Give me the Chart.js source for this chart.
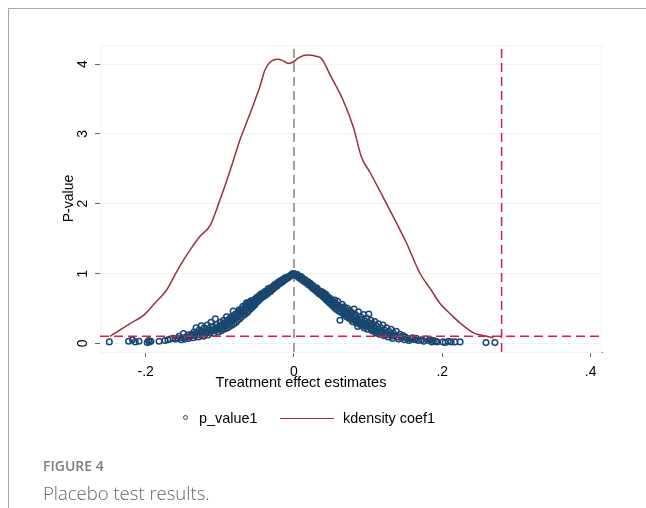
<!DOCTYPE html>
<html><head><meta charset="utf-8">
<script src="https://cdn.jsdelivr.net/npm/chart.js@4.4.1/dist/chart.umd.min.js"></script>
<style>
html,body{margin:0;padding:0;background:#fff;width:646px;height:508px;overflow:hidden;}
#wrap{position:relative;width:646px;height:508px;}
#frame{position:absolute;left:8px;top:8px;width:700px;height:600px;border-left:1px solid #a8a8a8;border-top:1px solid #a8a8a8;box-sizing:border-box;}
#c{position:absolute;left:0;top:0;}
.lg{position:absolute;font:14.4px "Liberation Sans",Arial,sans-serif;color:#000;line-height:16px;top:410px;white-space:nowrap;}
#lgDot{position:absolute;left:183px;top:415px;width:5px;height:5px;border:1px solid #1a476f;border-radius:50%;box-sizing:border-box;}
#lgLine{position:absolute;left:280px;top:417.5px;width:54px;height:1.5px;background:#93333b;}
#figno{position:absolute;left:43px;top:457px;font:600 14px "Open Sans",sans-serif;color:#7d7d7d;line-height:18px;}
#figcap{position:absolute;left:43px;top:482px;font:300 18.5px "Open Sans",sans-serif;color:#666;line-height:22px;white-space:nowrap;}
</style></head>
<body><div id="wrap">
<div id="frame"></div>
<canvas id="c" width="646" height="508"></canvas>
<div id="lgDot"></div><div class="lg" style="left:199px">p_value1</div>
<div id="lgLine"></div><div class="lg" style="left:343px">kdensity coef1</div>
<div id="figno">FIGURE 4</div>
<div id="figcap">Placebo test results.</div>
</div>
<script>
// placebo draws: [coefficient estimate, p-value]
const placeboDraws = [
[-0.001,0.99],[-0.002,1.00],[-0.003,0.98],[-0.004,0.97],[-0.006,0.96],[-0.007,0.95],[-0.008,0.94],[-0.010,0.93],
[-0.011,0.92],[-0.012,0.91],[-0.013,0.92],[-0.014,0.90],[-0.015,0.89],[-0.016,0.88],[-0.017,0.87],[-0.018,0.88],
[-0.019,0.86],[-0.020,0.85],[-0.021,0.86],[-0.022,0.84],[-0.023,0.82],[-0.024,0.83],[-0.025,0.81],[-0.026,0.80],
[-0.027,0.82],[-0.028,0.79],[-0.029,0.77],[-0.030,0.78],[-0.031,0.76],[-0.032,0.74],[-0.033,0.77],[-0.034,0.73],
[-0.035,0.75],[-0.036,0.71],[-0.037,0.72],[-0.038,0.69],[-0.039,0.74],[-0.040,0.70],[-0.041,0.67],[-0.042,0.71],
[-0.043,0.66],[-0.044,0.68],[-0.045,0.64],[-0.046,0.69],[-0.047,0.62],[-0.048,0.66],[-0.049,0.60],[-0.050,0.64],
[-0.051,0.58],[-0.052,0.62],[-0.053,0.55],[-0.054,0.60],[-0.055,0.53],[-0.056,0.57],[-0.057,0.51],[-0.058,0.61],
[-0.059,0.49],[-0.060,0.55],[-0.061,0.47],[-0.062,0.52],[-0.063,0.44],[-0.064,0.58],[-0.065,0.50],[-0.066,0.42],
[-0.067,0.47],[-0.068,0.40],[-0.069,0.53],[-0.070,0.45],[-0.071,0.38],[-0.072,0.43],[-0.073,0.35],[-0.074,0.48],
[-0.075,0.40],[-0.076,0.33],[-0.077,0.37],[-0.078,0.30],[-0.079,0.42],[-0.080,0.35],[-0.081,0.28],[-0.082,0.46],
[-0.083,0.32],[-0.084,0.26],[-0.085,0.38],[-0.086,0.30],[-0.087,0.24],[-0.088,0.34],[-0.089,0.27],[-0.090,0.22],
[-0.091,0.38],[-0.092,0.30],[-0.093,0.25],[-0.094,0.20],[-0.095,0.33],[-0.096,0.27],[-0.097,0.22],[-0.098,0.18],
[-0.099,0.30],[-0.100,0.25],[-0.101,0.20],[-0.102,0.16],[-0.104,0.27],[-0.105,0.22],[-0.106,0.35],[-0.107,0.18],
[-0.108,0.14],[-0.110,0.24],[-0.111,0.19],[-0.112,0.30],[-0.113,0.15],[-0.115,0.21],[-0.116,0.12],[-0.117,0.26],
[-0.118,0.17],[-0.120,0.13],[-0.121,0.22],[-0.122,0.10],[-0.124,0.17],[-0.125,0.25],[-0.126,0.12],[-0.128,0.19],
[-0.129,0.09],[-0.130,0.14],[-0.132,0.22],[-0.133,0.11],[-0.135,0.16],[-0.136,0.08],[-0.138,0.13],[-0.140,0.10],
[-0.142,0.07],[-0.143,0.12],[-0.145,0.09],[-0.147,0.06],[-0.149,0.14],[-0.150,0.08],[-0.152,0.05],[-0.155,0.10],
[-0.157,0.07],[-0.160,0.06],[-0.163,0.07],[-0.167,0.06],[-0.170,0.05],[-0.174,0.04],[-0.182,0.03],[-0.193,0.03],
[-0.195,0.02],[-0.196,0.04],[-0.198,0.01],[-0.209,0.03],[-0.214,0.02],[-0.218,0.05],[-0.223,0.03],[-0.249,0.02],
[-0.045,0.67],[-0.055,0.60],[-0.065,0.55],[-0.060,0.59],[-0.050,0.61],[-0.040,0.73],
[-0.005,0.97],[-0.009,0.95],[-0.012,0.94],[-0.016,0.91],[-0.019,0.89],[-0.022,0.87],[-0.026,0.84],[-0.029,0.81],
[-0.032,0.79],[-0.035,0.78],[-0.038,0.73],[-0.041,0.72],[-0.044,0.71],[-0.047,0.67],[-0.050,0.66],[-0.053,0.63],
[-0.056,0.61],[-0.059,0.57],[-0.062,0.56],[-0.066,0.52],[-0.069,0.49],[-0.072,0.47],[-0.075,0.44],[-0.078,0.40],
[-0.082,0.37],[-0.086,0.35],[-0.090,0.31],[-0.094,0.28],[-0.098,0.25],[-0.103,0.23],[-0.109,0.19],[-0.114,0.18],
[-0.119,0.15],[-0.127,0.15],[-0.134,0.12],
[0.000,1.00],[0.001,0.99],[0.002,0.98],[0.003,0.97],[0.004,0.99],[0.005,0.96],[0.006,0.95],[0.007,0.94],[0.008,0.93],
[0.009,0.94],[0.010,0.92],[0.011,0.91],[0.012,0.90],[0.013,0.91],[0.014,0.89],[0.015,0.88],[0.016,0.87],[0.017,0.88],
[0.018,0.86],[0.019,0.85],[0.020,0.84],[0.021,0.85],[0.022,0.83],[0.023,0.81],[0.024,0.82],[0.025,0.80],[0.026,0.78],
[0.027,0.81],[0.028,0.77],[0.029,0.79],[0.030,0.75],[0.031,0.77],[0.032,0.73],[0.033,0.76],[0.034,0.71],[0.035,0.74],
[0.036,0.70],[0.037,0.72],[0.038,0.68],[0.039,0.73],[0.040,0.66],[0.041,0.70],[0.042,0.64],[0.043,0.68],[0.044,0.62],
[0.045,0.67],[0.046,0.60],[0.047,0.65],[0.048,0.58],[0.049,0.63],[0.050,0.56],[0.051,0.61],[0.052,0.54],[0.053,0.59],
[0.054,0.52],[0.055,0.62],[0.056,0.50],[0.057,0.56],[0.058,0.48],[0.059,0.60],[0.060,0.53],[0.061,0.46],[0.062,0.33],
[0.063,0.51],[0.064,0.44],[0.065,0.56],[0.066,0.48],[0.067,0.42],[0.068,0.52],[0.069,0.40],[0.070,0.46],[0.071,0.38],
[0.072,0.50],[0.073,0.43],[0.074,0.36],[0.075,0.47],[0.076,0.40],[0.077,0.34],[0.078,0.44],[0.079,0.31],[0.080,0.38],
[0.081,0.49],[0.082,0.33],[0.083,0.41],[0.084,0.29],[0.085,0.36],[0.086,0.24],[0.087,0.45],[0.088,0.31],[0.089,0.27],
[0.090,0.38],[0.091,0.34],[0.092,0.25],[0.093,0.30],[0.094,0.41],[0.095,0.22],[0.096,0.32],[0.097,0.27],[0.098,0.36],
[0.099,0.20],[0.100,0.30],[0.101,0.42],[0.102,0.25],[0.104,0.33],[0.105,0.18],[0.106,0.28],[0.108,0.22],[0.109,0.31],
[0.110,0.15],[0.111,0.25],[0.113,0.20],[0.114,0.28],[0.115,0.13],[0.117,0.22],[0.118,0.17],[0.120,0.26],[0.121,0.11],
[0.122,0.19],[0.124,0.15],[0.125,0.22],[0.127,0.09],[0.128,0.17],[0.130,0.13],[0.131,0.20],[0.133,0.07],[0.134,0.15],
[0.136,0.11],[0.138,0.17],[0.140,0.09],[0.141,0.06],[0.143,0.13],[0.145,0.08],[0.147,0.11],[0.149,0.05],[0.150,0.09],
[0.153,0.07],[0.155,0.04],[0.158,0.06],[0.160,0.08],[0.163,0.05],[0.165,0.07],[0.168,0.04],[0.172,0.05],[0.175,0.03],
[0.178,0.06],[0.182,0.04],[0.184,0.05],[0.186,0.02],[0.188,0.04],[0.191,0.03],[0.193,0.02],[0.201,0.02],[0.204,0.01],
[0.208,0.03],[0.212,0.02],[0.217,0.02],[0.224,0.02],[0.259,0.01],[0.271,0.01],
[0.045,0.63],[0.055,0.58],[0.065,0.52],[0.035,0.72],
[0.005,0.97],[0.009,0.96],[0.012,0.93],[0.015,0.91],[0.019,0.88],[0.022,0.86],[0.025,0.83],[0.028,0.80],[0.031,0.79],
[0.034,0.75],[0.037,0.74],[0.040,0.71],[0.043,0.70],[0.046,0.66],[0.049,0.64],[0.052,0.60],[0.055,0.56],[0.058,0.55],
[0.061,0.52],[0.064,0.50],[0.067,0.47],[0.070,0.43],[0.073,0.40],[0.076,0.37],[0.079,0.35],[0.083,0.33],[0.087,0.30],
[0.091,0.28],[0.095,0.26],[0.099,0.24],[0.104,0.21],[0.108,0.18],[0.112,0.16],[0.118,0.14],[0.124,0.12],[0.132,0.10]
];
// kernel density of coef1
const kdX = [-0.248,-0.235,-0.220,-0.203,-0.188,-0.172,-0.160,-0.149,-0.138,-0.127,-0.113,-0.100,-0.086,-0.073,-0.060,-0.046,-0.039,-0.032,-0.023,-0.015,-0.008,-0.001,0.006,0.017,0.031,0.037,0.050,0.066,0.080,0.091,0.103,0.116,0.134,0.152,0.170,0.184,0.197,0.211,0.224,0.242,0.255,0.269];
const kdY = [0.10,0.19,0.29,0.40,0.57,0.76,0.99,1.19,1.37,1.53,1.69,2.05,2.48,2.91,3.27,3.68,3.92,4.03,4.07,4.05,4.01,4.03,4.09,4.13,4.11,4.08,3.82,3.49,3.10,2.67,2.44,2.18,1.81,1.43,1.00,0.78,0.57,0.42,0.29,0.15,0.11,0.08];
const xTicks = [-0.2, 0, 0.2, 0.4];
const xTickLabels = ['-.2', '0', '.2', '.4'];
const yTicks = [0, 1, 2, 3, 4];
const yTickLabels = ['0', '1', '2', '3', '4'];
const xTitle = 'Treatment effect estimates';
const zeroEffect = 0;
const actualEffect = 0.28;
const pThreshold = 0.1;
const xRange = [-0.2616, 0.4154];
const yRange = [-0.125, 4.274];

const FONT = '"Liberation Sans", Arial, sans-serif';
const axisText = {
  id: 'axisText',
  beforeDatasetsDraw(chart) {
    const a = chart.chartArea, ctx = chart.ctx;
    ctx.save(); ctx.strokeStyle = '#eef3f3'; ctx.lineWidth = 1;
    ctx.strokeRect(a.left + 0.5, a.top + 0.5, a.right - a.left - 1, a.bottom - a.top);
    ctx.restore();
  },
  afterDraw(chart) {
    const ys = chart.scales.y, xs = chart.scales.x, ctx = chart.ctx;
    ctx.save();
    ctx.font = '14px ' + FONT; ctx.fillStyle = '#000';
    ctx.textAlign = 'center'; ctx.textBaseline = 'alphabetic';
    yTicks.forEach((v, i) => {
      const py = ys.getPixelForValue(v);
      ctx.save(); ctx.translate(ys.right - 13, py); ctx.rotate(-Math.PI / 2);
      ctx.fillText(yTickLabels[i], 0, 0); ctx.restore();
    });
    // x-axis title, centred on the whole graph region as Stata does
    ctx.font = '14.5px ' + FONT; ctx.textBaseline = 'alphabetic';
    ctx.fillText(xTitle, (xs.left + xs.right) / 2 - 50, xs.top + 35);
    ctx.restore();
  }
};
const X_AXIS_H = 40;
new Chart(document.getElementById('c'), {
  type: 'scatter',
  data: {
    datasets: [
      { label: 'xline0', data: [{x: zeroEffect, y: yRange[0]}, {x: zeroEffect, y: yRange[1]}], showLine: true, pointRadius: 0, borderColor: '#a0a0a0', borderWidth: 2, borderDash: [9, 5], order: 5 },
      { label: 'p_value1', data: placeboDraws.map(d => ({x: d[0], y: d[1]})), pointStyle: 'circle', pointRadius: 2.8, borderColor: '#1a476f', backgroundColor: 'rgba(0,0,0,0)', borderWidth: 1.5, order: 4 },
      { label: 'kdensity coef1', data: kdX.map((x, i) => ({x, y: kdY[i]})), showLine: true, pointRadius: 0, borderColor: '#93333b', borderWidth: 1.5, tension: 0.35, cubicInterpolationMode: 'monotone', order: 3 },
      { label: 'xline', data: [{x: actualEffect, y: yRange[0]}, {x: actualEffect, y: yRange[1]}], showLine: true, pointRadius: 0, borderColor: '#d81b47', borderWidth: 1.5, borderDash: [9, 5], order: 2 },
      { label: 'yline', data: [{x: xRange[0], y: pThreshold}, {x: xRange[1], y: pThreshold}], showLine: true, pointRadius: 0, borderColor: '#d81b47', borderWidth: 1.5, borderDash: [9, 5], order: 1 }
    ]
  },
  options: {
    responsive: false, animation: false, devicePixelRatio: 1,
    layout: { padding: { left: 0, top: 45, right: 44, bottom: 508 - 352 - X_AXIS_H } },
    plugins: { legend: { display: false }, tooltip: { enabled: false } },
    scales: {
      x: {
        type: 'linear', min: xRange[0], max: xRange[1],
        afterBuildTicks: s => { s.ticks = xTicks.map(v => ({ value: v })); },
        afterFit: s => { s.height = X_AXIS_H; },
        ticks: { font: { family: FONT, size: 14 }, color: '#000', padding: 7, maxRotation: 0,
          callback: v => { const i = xTicks.findIndex(t => Math.abs(t - v) < 1e-9); return i >= 0 ? xTickLabels[i] : ''; } },
        grid: { drawOnChartArea: false, drawTicks: true, tickLength: 5, tickColor: '#666', lineWidth: 1 },
        border: { display: true, color: '#666', width: 1 },
        title: { display: false }
      },
      y: {
        type: 'linear', min: yRange[0], max: yRange[1],
        afterBuildTicks: s => { s.ticks = yTicks.map(v => ({ value: v })); },
        afterFit: s => { s.width = 100; },
        ticks: { display: false },
        grid: { drawOnChartArea: true, color: '#eef3f3', drawTicks: true, tickLength: 5, tickColor: '#666', lineWidth: 1 },
        border: { display: true, color: '#666', width: 1 },
        title: { display: true, text: 'P-value', font: { family: FONT, size: 14 }, color: '#000', padding: { top: 61, bottom: 0 } }
      }
    }
  },
  plugins: [axisText]
});
</script>
</body></html>
